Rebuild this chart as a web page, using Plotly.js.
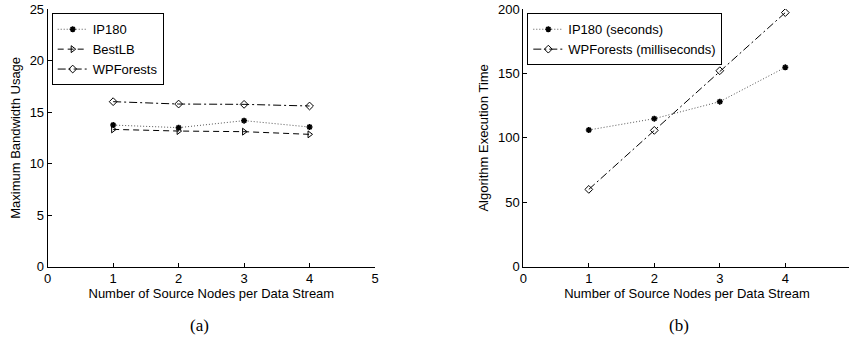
<!DOCTYPE html>
<html><head><meta charset="utf-8">
<script src="https://cdn.plot.ly/plotly-3.0.1.min.js"></script>
<style>html,body{margin:0;padding:0;overflow:hidden;background:#fff;width:849px;height:339px}</style>
</head><body><div id="chart" style="width:852px;height:339px"></div>
<script>
const nodes = [1, 2, 3, 4];
const bwIP180 = [13.74, 13.49, 14.17, 13.55];
const bwBestLB = [13.32, 13.16, 13.10, 12.84];
const bwWPForests = [16.01, 15.78, 15.75, 15.59];
const timeIP180 = [106.1, 114.9, 128.1, 154.7];
const timeWPForests = [60.0, 105.8, 152.1, 197.2];
const xTicks = [0, 1, 2, 3, 4, 5];
const yTicksA = [0, 5, 10, 15, 20, 25];
const yTicksB = [0, 50, 100, 150, 200];

const W = 852, H = 339;
const font = {family: 'Liberation Sans, Arial, sans-serif', size: 13, color: '#000'};
function ipStyle() {
  return {mode: 'lines+markers', line: {color: '#555', width: 1, dash: '1px,2px'},
    marker: {symbol: 'asterisk-open', size: 5, color: '#000', line: {color: '#000', width: 1.6}}};
}
function wpStyle() {
  return {mode: 'lines+markers', line: {color: '#000', width: 1, dash: '8px,3px,2px,3px'},
    marker: {symbol: 'diamond-open', size: 6, color: '#000', line: {color: '#000', width: 1}}};
}

const traces = [
  Object.assign({x: nodes, y: bwIP180, name: 'IP180', xaxis: 'x', yaxis: 'y', legend: 'legend'}, ipStyle()),
  {x: nodes, y: bwBestLB, name: 'BestLB', xaxis: 'x', yaxis: 'y', legend: 'legend', mode: 'lines+markers',
   line: {color: '#000', width: 1, dash: '6px,4px'},
   marker: {symbol: 'triangle-right-open', size: 6, color: '#000', line: {color: '#000', width: 1}}},
  Object.assign({x: nodes, y: bwWPForests, name: 'WPForests', xaxis: 'x', yaxis: 'y', legend: 'legend'}, wpStyle()),
  Object.assign({x: nodes, y: timeIP180, name: 'IP180 (seconds)', xaxis: 'x2', yaxis: 'y2', legend: 'legend2'}, ipStyle()),
  Object.assign({x: nodes, y: timeWPForests, name: 'WPForests (milliseconds)', xaxis: 'x2', yaxis: 'y2', legend: 'legend2'}, wpStyle())
];

const axBase = {showline: true, linecolor: '#000', linewidth: 1, mirror: false, showgrid: false, zeroline: false,
  ticks: 'inside', ticklen: 4, tickcolor: '#000', tickfont: font, fixedrange: true};
const yDom = [1 - 266.7 / H, 1 - 9 / H];

const layout = {
  width: W, height: H, margin: {l: 0, r: 0, t: 0, b: 0}, paper_bgcolor: '#fff', plot_bgcolor: '#fff',
  font: font, showlegend: true,
  xaxis: Object.assign({}, axBase, {domain: [47.7 / W, 375 / W], range: [0, 5], tickvals: xTicks, anchor: 'y',
    title: {text: 'Number of Source Nodes per Data Stream', font: font, standoff: 1}}),
  yaxis: Object.assign({}, axBase, {domain: yDom, range: [0, 25], tickvals: yTicksA, anchor: 'x',
    title: {text: 'Maximum Bandwidth Usage', font: font, standoff: 6}}),
  xaxis2: Object.assign({}, axBase, {domain: [523.3 / W, 850.8 / W], range: [0, 5], tickvals: xTicks, anchor: 'y2',
    title: {text: 'Number of Source Nodes per Data Stream', font: font, standoff: 1}}),
  yaxis2: Object.assign({}, axBase, {domain: yDom, range: [0, 200], tickvals: yTicksB, anchor: 'x2',
    title: {text: 'Algorithm Execution Time', font: font, standoff: 6}}),
  legend: {x: 51.7 / W, y: 1 - 13.3 / H, xanchor: 'left', yanchor: 'top', bgcolor: '#fff', bordercolor: '#000',
    borderwidth: 1, font: font, tracegroupgap: 0, itemwidth: 30},
  legend2: {x: 527.3 / W, y: 1 - 13.3 / H, xanchor: 'left', yanchor: 'top', bgcolor: '#fff', bordercolor: '#000',
    borderwidth: 1, font: font, tracegroupgap: 0, itemwidth: 30},
  annotations: [
    {text: '(a)', x: 199 / W, y: 1 - 325 / H, xref: 'paper', yref: 'paper', xanchor: 'center', yanchor: 'middle', showarrow: false,
     font: {family: 'Liberation Serif, Times New Roman, serif', size: 17, color: '#000'}},
    {text: '(b)', x: 679 / W, y: 1 - 325 / H, xref: 'paper', yref: 'paper', xanchor: 'center', yanchor: 'middle', showarrow: false,
     font: {family: 'Liberation Serif, Times New Roman, serif', size: 17, color: '#000'}}
  ]
};

Plotly.newPlot('chart', traces, layout, {displayModeBar: false, staticPlot: true});
</script></body></html>
